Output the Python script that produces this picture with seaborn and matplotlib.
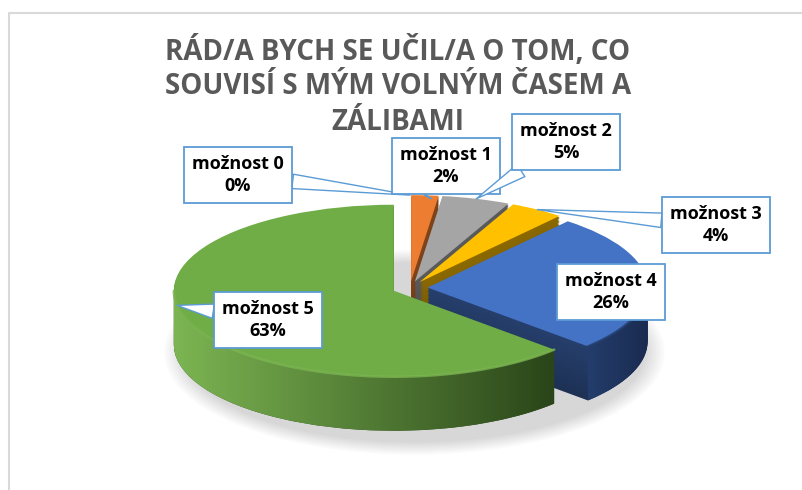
import matplotlib
matplotlib.use("Agg")
import numpy as np
import matplotlib.pyplot as plt
import matplotlib.colors as mcolors
from matplotlib.lines import Line2D
from matplotlib.patches import Ellipse, Polygon
import seaborn as sns

# Data
options = ["možnost 0", "možnost 1", "možnost 2", "možnost 3", "možnost 4", "možnost 5"]
shares = [0, 2, 5, 4, 26, 63]
title_lines = ["RÁD/A BYCH SE UČIL/A O TOM, CO",
               "SOUVISÍ S MÝM VOLNÝM ČASEM A",
               "ZÁLIBAMI"]
top_colors = ["#5B9BD5", "#ED7D31", "#A5A5A5", "#FFC000", "#4472C4", "#70AD47"]

sns.set_theme(style="white")
plt.rcParams["font.family"] = ["Open Sans", "DejaVu Sans"]

W, H = 803, 490
fig = plt.figure(figsize=(W / 100, H / 100), dpi=100)
ax = fig.add_axes([0, 0, 1, 1])

# pie geometry (pixels): centre and semi-axes of the tilted disc
cx, cy = 410, 288
rx, ry = 220, 86
depth = 54 / ry
explode = [0.08] * len(shares)


def shade(c, f):
    r, g, b = mcolors.to_rgb(c)
    return (r * f, g * f, b * f)


def to_data(px, py):
    return (px - cx) / rx, (cy - py) / ry


def set_limits():
    ax.set_aspect("auto")
    ax.set_xlim(-cx / rx, (W - cx) / rx)
    ax.set_ylim(-(H - cy) / ry, cy / ry)


# soft shadow under the disc
for i in range(8):
    ax.add_patch(Ellipse((0.02, -depth - 0.12), 2.1 + 0.025 * i, 2.1 + 0.04 * i,
                         color="#000000", alpha=0.018, lw=0, zorder=0))

# side walls: stack of darker pies pushed downwards
n_layers = 40
for k in range(n_layers, 0, -1):
    d = depth * k / n_layers
    f = 0.55 - 0.12 * k / n_layers
    ax.pie(shares, colors=[shade(c, f) for c in top_colors], startangle=90,
           counterclock=False, explode=explode, center=(0, -d),
           wedgeprops=dict(linewidth=0, zorder=1))

# top face
wedges, _ = ax.pie(shares, colors=top_colors, startangle=90, counterclock=False,
                   explode=explode, center=(0, 0),
                   wedgeprops=dict(linewidth=0, zorder=3))
set_limits()
ax.axis("off")


# lit outer wall of a slice: horizontal gradient clipped to its front side
def front_wall(w, light, dark):
    t1 = w.theta1 % 360
    t2 = t1 + (w.theta2 - w.theta1)
    lo, hi = max(t1, 180), min(t2, 360)
    if hi <= lo:
        return
    ang = np.deg2rad(np.linspace(lo, hi, 120))
    x0, y0 = w.center
    top = np.column_stack([x0 + np.cos(ang), y0 + np.sin(ang)])
    bot = top[::-1] - [0, depth]
    poly = Polygon(np.vstack([top, bot]), closed=True, fc="none", ec="none",
                   transform=ax.transData)
    ax.add_patch(poly)
    cmap = mcolors.LinearSegmentedColormap.from_list("wall", [light, dark])
    grad = np.linspace(0, 1, 256).reshape(1, -1)
    im = ax.imshow(grad, cmap=cmap,
                   extent=[top[:, 0].min(), top[:, 0].max(),
                           top[:, 1].min() - depth - 0.05, top[:, 1].max() + 0.05],
                   aspect="auto", zorder=2, interpolation="bilinear")
    im.set_clip_path(poly)
    ax.plot(top[:, 0], top[:, 1], color=light, lw=1.8, alpha=0.8, zorder=3.5,
            solid_capstyle="round")
    set_limits()


front_wall(wedges[5], "#7cb552", "#2a4519")
front_wall(wedges[4], "#243d6c", "#1a2b50")

# callout labels
label_pos = [(238, 175), (446, 166), (566, 142), (716, 225), (611, 292), (268, 320)]
anchor_frac = [0.5, 0.5, 0.5, 0.5, 0.5, 0.44]
box_blue = "#5B9BD5"
for w, name, val, (lx, ly), fr in zip(wedges, options, shares, label_pos, anchor_frac):
    a = np.deg2rad(w.theta1 + fr * (w.theta2 - w.theta1))
    tx = w.center[0] + np.cos(a)
    ty = w.center[1] + np.sin(a)
    arrow = None
    if name != "možnost 4":
        arrow = dict(arrowstyle="wedge,tail_width=0.8,shrink_factor=0.5",
                     fc="white", ec=box_blue, lw=1, shrinkA=0, shrinkB=0)
    ax.annotate(f"{name}\n{val}%", xy=(tx, ty), xytext=to_data(lx, ly),
                ha="center", va="center", fontsize=13, fontweight="bold",
                color="#000000", linespacing=1.25,
                bbox=dict(boxstyle="square,pad=0.45", fc="white", ec=box_blue, lw=1.3),
                arrowprops=arrow, zorder=5)

# title
for i, line in enumerate(title_lines):
    fig.text(398 / W, 1 - (51 + 36 * i) / H, line, ha="center", va="center",
             fontsize=20, fontweight="bold", color="#595959")

# chart area border (only top and left visible)
fig.add_artist(Line2D([9 / W, 9 / W, 1], [0, 1 - 13 / H, 1 - 13 / H],
                      transform=fig.transFigure, color="#D9D9D9", lw=1.5))

fig.savefig("out.png", dpi=100)
